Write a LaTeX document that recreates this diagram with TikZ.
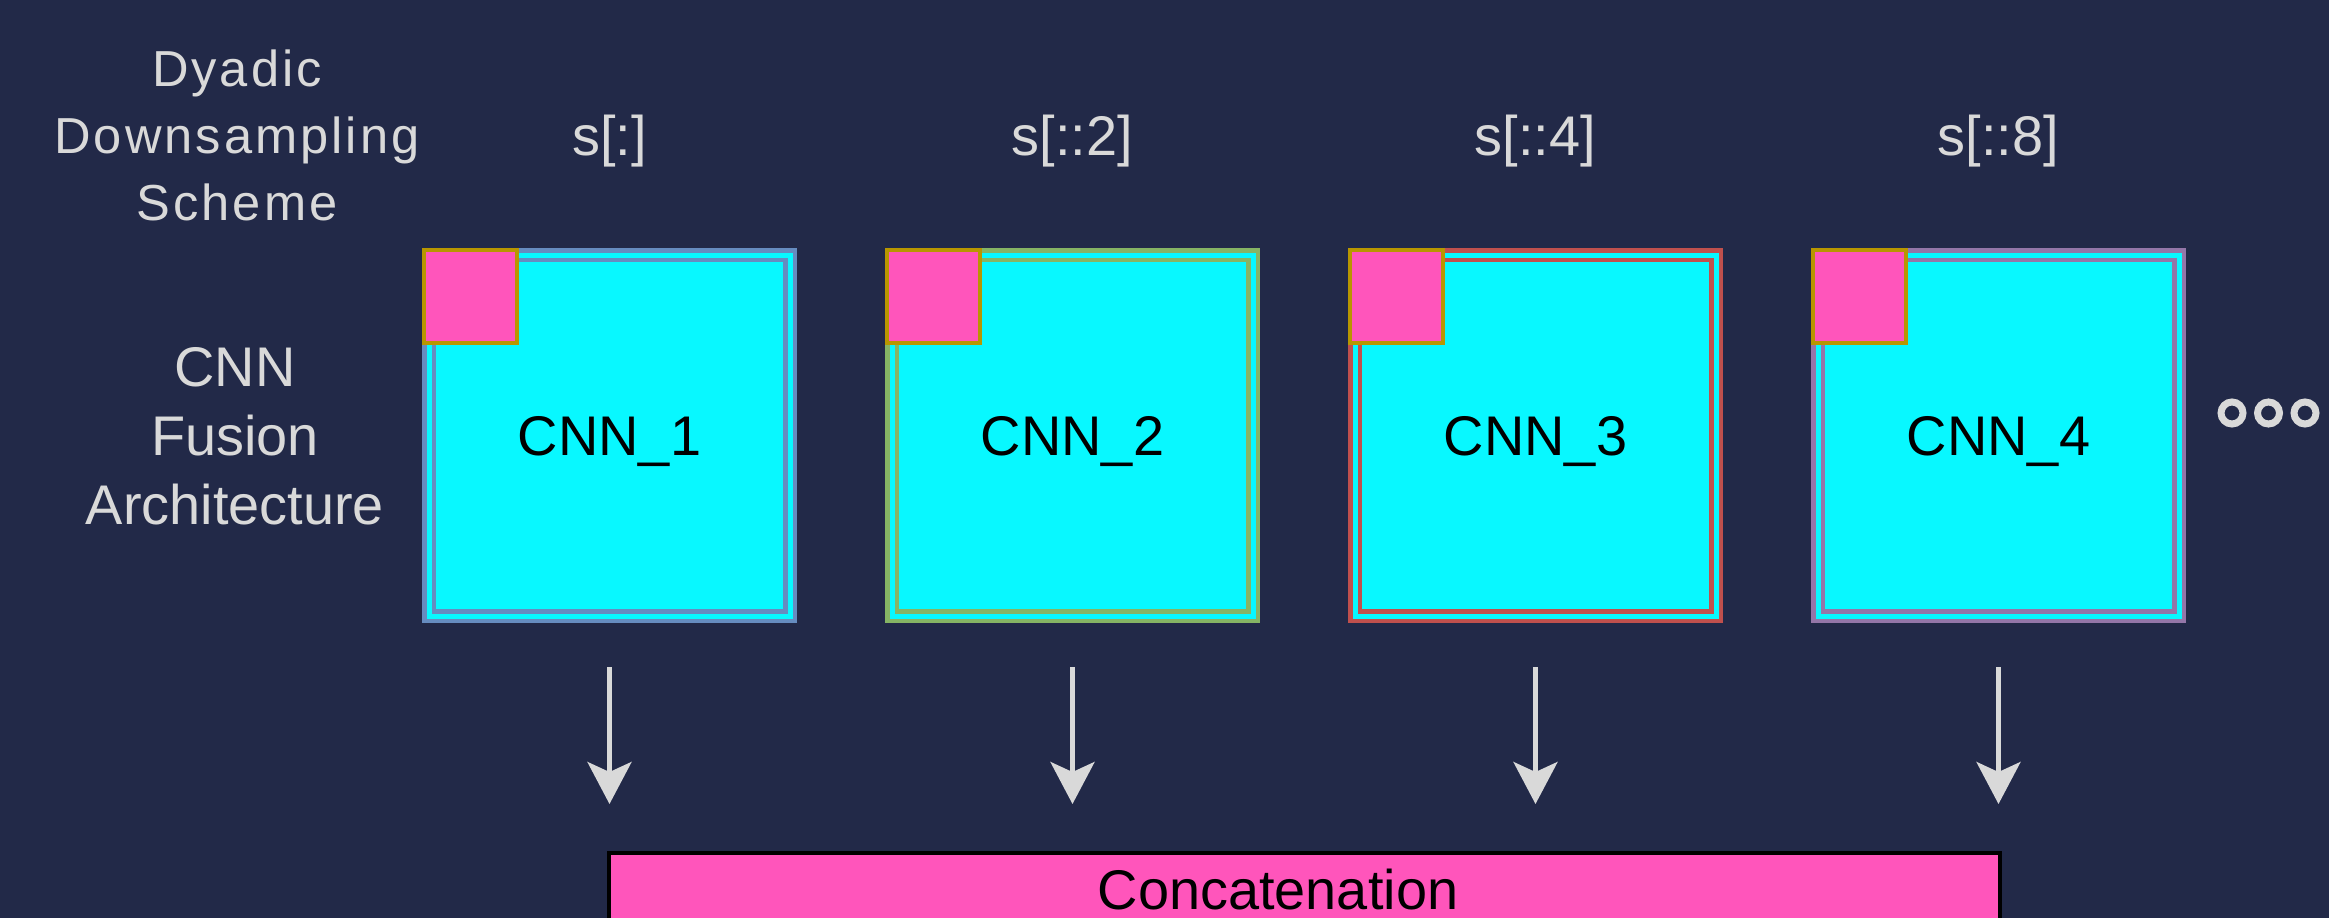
\documentclass[tikz,border=0pt]{standalone}
\usepackage{fontspec}
\setmainfont{Liberation Sans}
\usetikzlibrary{arrows.meta}

\definecolor{slideBg}{RGB}{34,41,72}
\definecolor{slideText}{RGB}{217,217,217}
\definecolor{cnnFill}{RGB}{8,248,255}
\definecolor{patchPink}{RGB}{255,85,187}
\definecolor{patchGold}{RGB}{184,150,0}
\definecolor{cnnBlue}{RGB}{102,140,192}
\definecolor{cnnGreen}{RGB}{134,180,100}
\definecolor{cnnRed}{RGB}{192,80,77}
\definecolor{cnnPurple}{RGB}{148,118,168}

\begin{document}
\begin{tikzpicture}[font=\fontsize{15.9}{19.6}\selectfont,
  cnn/.style={draw=#1, double=cnnFill, double distance=0.05cm, line width=0.045cm,
    fill=cnnFill, minimum size=3.61cm, inner sep=0pt, outer sep=0pt, text depth=0pt, text=black},
  patch/.style={draw=patchGold, line width=0.04cm, fill=patchPink, minimum size=0.93cm,
    inner sep=0pt, outer sep=0pt, anchor=north west},
  ring/.style={circle, draw=slideText, line width=0.07cm, minimum size=0.22cm, inner sep=0pt},
  flow/.style={draw=slideText, line width=0.045cm, -{Stealth[length=0.42cm, width=0.44cm, inset=0.1cm]},
    shorten <=0.51cm, shorten >=0.47cm}]

\fill[slideBg] (0,0) rectangle (23.29,-9.18);
\useasboundingbox (0,0) rectangle (23.29,-9.18);
\clip (0,0) rectangle (23.29,-9.18);

\begin{scope}[slideText]
\node (dyadic) at (2.37,-0.37) [anchor=north, align=center,
  font=\fontsize{14.4}{19.1}\selectfont\addfontfeature{LetterSpace=6}] {Dyadic\\Downsampling\\Scheme};
\node (fusion) at (2.35,-3.35) [anchor=north, align=center] {CNN\\Fusion\\Architecture};
\node (ds1) at (6.095,-1.55) [anchor=base] {s[:]};
\node (ds2) at (10.725,-1.55) [anchor=base] {s[::2]};
\node (ds3) at (15.355,-1.55) [anchor=base] {s[::4]};
\node (ds4) at (19.985,-1.55) [anchor=base] {s[::8]};
\end{scope}

\node (cnn1) at (6.095,-4.355) [cnn=cnnBlue] {CNN\_1};
\node (cnn2) at (10.725,-4.355) [cnn=cnnGreen] {CNN\_2};
\node (cnn3) at (15.355,-4.355) [cnn=cnnRed] {CNN\_3};
\node (cnn4) at (19.985,-4.355) [cnn=cnnPurple] {CNN\_4};

\node (patch1) at ([shift={(-0.05,0.05)}]cnn1.north west) [patch] {};
\node (patch2) at ([shift={(-0.05,0.05)}]cnn2.north west) [patch] {};
\node (patch3) at ([shift={(-0.05,0.05)}]cnn3.north west) [patch] {};
\node (patch4) at ([shift={(-0.05,0.05)}]cnn4.north west) [patch] {};

\node (more1) at (22.32,-4.13) [ring] {};
\node (more2) at (22.685,-4.13) [ring] {};
\node (more3) at (23.05,-4.13) [ring] {};

\node (concat) at (13.045,-9.265) [draw=black, line width=0.04cm, fill=patchPink,
  minimum width=13.91cm, minimum height=1.47cm, inner sep=0pt] {};
\node (concatlbl) at (12.78,-9.09) [anchor=base, inner sep=0pt] {Concatenation};

\begin{scope}[flow]
\draw (cnn1.south) -- (cnn1.south |- concat.north);
\draw (cnn2.south) -- (cnn2.south |- concat.north);
\draw (cnn3.south) -- (cnn3.south |- concat.north);
\draw (cnn4.south) -- (cnn4.south |- concat.north);
\end{scope}
\end{tikzpicture}
\end{document}
